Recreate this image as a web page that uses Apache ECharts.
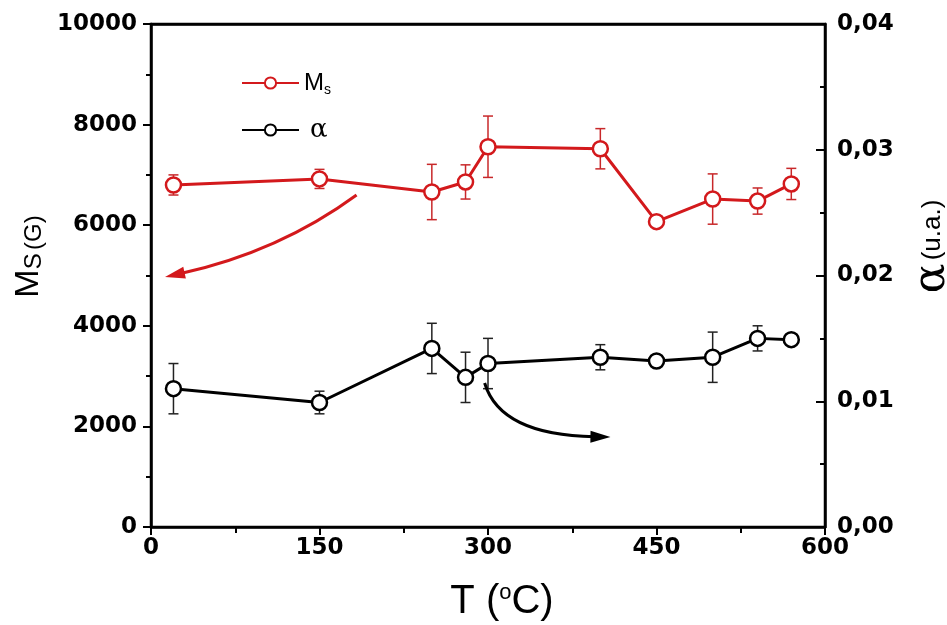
<!DOCTYPE html>
<html><head><meta charset="utf-8">
<script src="https://cdn.jsdelivr.net/npm/echarts@6/dist/echarts.min.js"></script>
<style>html,body{margin:0;padding:0;background:#fff}#c{width:947px;height:625px}</style>
</head><body><div id="c"></div>
<script>
// ---- data ----
const temps = [20, 150, 250, 280, 300, 400, 450, 500, 540, 570];
const msValues = [6800, 6920, 6660, 6860, 7560, 7520, 6070, 6520, 6480, 6820];
const msErrors = [200, 190, 550, 340, 610, 400, 110, 500, 260, 310];
const alphaValues = [0.0110, 0.0099, 0.0142, 0.0119, 0.0130, 0.0135, 0.0132, 0.0135, 0.0150, 0.0149];
const alphaErrors = [0.0020, 0.0009, 0.0020, 0.0020, 0.0020, 0.0010, 0, 0.0020, 0.0010, 0];
const xTickValues = [0, 150, 300, 450, 600];
const msTickValues = [0, 2000, 4000, 6000, 8000, 10000];
const alphaTickValues = [0, 0.01, 0.02, 0.03, 0.04];
// annotation arrows in data units [T, Ms] (left axis) / [T, alpha] (right axis)
const redArrow = [[183, 6600], [114, 5470], [12.5, 4970]];
const blackArrow = [[297, 0.01145], [311, 0.0073], [409, 0.00716]];

const RED = '#d3191c';
const chart = echarts.init(document.getElementById('c'), null, {renderer: 'canvas'});

function errSeries(vals, errs, color, yIdx) {
  return {
    type: 'custom', yAxisIndex: yIdx, z: 1, silent: true,
    data: temps.map((t, i) => [t, vals[i] - errs[i], vals[i] + errs[i]]),
    renderItem(params, api) {
      const lo = api.coord([api.value(0), api.value(1)]);
      const hi = api.coord([api.value(0), api.value(2)]);
      if (Math.abs(hi[1] - lo[1]) < 1) return null;
      const w = 5, st = {stroke: color, lineWidth: 1.5};
      return {type: 'group', children: [
        {type: 'line', shape: {x1: lo[0], y1: lo[1], x2: hi[0], y2: hi[1]}, style: st},
        {type: 'line', shape: {x1: lo[0] - w, y1: lo[1], x2: lo[0] + w, y2: lo[1]}, style: st},
        {type: 'line', shape: {x1: hi[0] - w, y1: hi[1], x2: hi[0] + w, y2: hi[1]}, style: st}
      ]};
    }
  };
}

const labelFont = {fontFamily: 'DejaVu Sans', fontWeight: 'bold', fontSize: 23, color: '#000'};
const axisLineStyle = {color: '#000', width: 2.5};

chart.setOption({
  animation: false,
  backgroundColor: '#fff',
  grid: {left: 151, right: 122, top: 24, bottom: 98, show: true, borderColor: '#000', borderWidth: 2.5,
    containLabel: false, outerBoundsMode: 'none'},
  legend: {
    orient: 'vertical', left: 236, top: 66, itemWidth: 57, itemHeight: 14, itemGap: 20,
    data: ['Ms', 'alpha'],
    formatter: n => n === 'Ms' ? '{m|M}{s|s}' : '{a|α}',
    textStyle: {
      rich: {
        m: {fontFamily: 'Liberation Sans', fontSize: 24, color: '#000'},
        s: {fontFamily: 'Liberation Sans', fontSize: 14, color: '#000', verticalAlign: 'bottom', padding: [14, 0, 0, 0]},
        a: {fontFamily: 'DejaVu Serif', fontSize: 26, color: '#000', padding: [0, 0, 0, 6]}
      }
    }
  },
  xAxis: [{
    type: 'value', min: 0, max: 600, interval: 150, position: 'bottom',
    axisLine: {onZero: false, lineStyle: axisLineStyle},
    axisTick: {show: true, inside: false, length: 8, lineStyle: {width: 2, color: '#000'}},
    minorTick: {show: true, splitNumber: 2, length: 6, lineStyle: {width: 2, color: '#000'}},
    splitLine: {show: false},
    axisLabel: Object.assign({margin: 10, formatter: v => String(v)}, labelFont),
    name: '{t|T (}{o|o}{t|C)}', nameLocation: 'middle', nameGap: 55,
    nameTextStyle: {padding: [0, 0, 0, 28], rich: {
      t: {fontFamily: 'Liberation Sans', fontSize: 40, color: '#000'},
      o: {fontFamily: 'Liberation Sans', fontSize: 22, color: '#000', verticalAlign: 'top', padding: [0, 0, 15, 0]}
    }}
  }, {
    type: 'value', min: 0, max: 600, position: 'top',
    axisLine: {onZero: false, lineStyle: axisLineStyle}, axisTick: {show: false}, axisLabel: {show: false}, splitLine: {show: false}
  }],
  yAxis: [{
    type: 'value', min: 0, max: 10000, interval: 2000, position: 'left',
    axisLine: {show: true, onZero: false, lineStyle: axisLineStyle},
    axisTick: {show: true, inside: false, length: 8, lineStyle: {width: 2, color: '#000'}},
    minorTick: {show: true, splitNumber: 2, length: 5, lineStyle: {width: 2, color: '#000'}},
    splitLine: {show: false},
    axisLabel: Object.assign({margin: 14, formatter: v => String(v)}, labelFont),
    name: '{m|M}{s|S} {g|(G)}', nameLocation: 'middle', nameRotate: 90, nameGap: 104,
    nameTextStyle: {padding: [0, 0, 0, 38], rich: {
      m: {fontFamily: 'Liberation Sans', fontSize: 34, color: '#000'},
      s: {fontFamily: 'Liberation Sans', fontSize: 24, color: '#000', verticalAlign: 'bottom'},
      g: {fontFamily: 'Liberation Sans', fontSize: 24, color: '#000', verticalAlign: 'bottom'}
    }}
  }, {
    type: 'value', min: 0, max: 0.04, interval: 0.01, position: 'right',
    axisLine: {show: true, onZero: false, lineStyle: axisLineStyle},
    axisTick: {show: true, inside: true, length: 9, lineStyle: {width: 2, color: '#000'}},
    minorTick: {show: true, splitNumber: 2, length: 5, lineStyle: {width: 2, color: '#000'}},
    splitLine: {show: false},
    axisLabel: Object.assign({margin: 12, formatter: v => v.toFixed(2).replace('.', ',')}, labelFont),
    name: '{a|α} {u|(u.a.)}', nameLocation: 'middle', nameRotate: 90, nameGap: 86,
    nameTextStyle: {padding: [0, 0, 0, 58], rich: {
      a: {fontFamily: 'DejaVu Serif', fontSize: 44, color: '#000'},
      u: {fontFamily: 'Liberation Sans', fontSize: 26, color: '#000'}
    }}
  }],
  series: [
    errSeries(msValues, msErrors, '#c8282a', 0),
    errSeries(alphaValues, alphaErrors, '#222', 1),
    {
      name: 'Ms', type: 'line', yAxisIndex: 0, z: 3,
      data: temps.map((t, i) => [t, msValues[i]]),
      symbol: 'circle', symbolSize: 15,
      lineStyle: {color: RED, width: 3},
      itemStyle: {color: '#fff', borderColor: RED, borderWidth: 2.5}
    },
    {
      name: 'alpha', type: 'line', yAxisIndex: 1, z: 3,
      data: temps.map((t, i) => [t, alphaValues[i]]),
      symbol: 'circle', symbolSize: 15,
      lineStyle: {color: '#000', width: 3},
      itemStyle: {color: '#fff', borderColor: '#000', borderWidth: 2.5}
    }
  ]
});

function arrowGraphic(pts, yIdx, color) {
  const p = pts.map(d => chart.convertToPixel({xAxisIndex: 0, yAxisIndex: yIdx}, d));
  const [p0, c, p2] = p;
  const dx = p2[0] - c[0], dy = p2[1] - c[1];
  const L = Math.hypot(dx, dy), ux = dx / L, uy = dy / L;
  const len = 20, hw = 6;
  const bx = p2[0] - ux * len, by = p2[1] - uy * len;
  return [
    {type: 'bezierCurve', shape: {x1: p0[0], y1: p0[1], x2: bx + ux * 4, y2: by + uy * 4, cpx1: c[0], cpy1: c[1]},
      style: {stroke: color, lineWidth: 3, fill: null}, z: 10},
    {type: 'polygon', shape: {points: [[p2[0], p2[1]], [bx - uy * hw, by + ux * hw], [bx + uy * hw, by - ux * hw]]},
      style: {fill: color}, z: 10}
  ];
}
chart.setOption({graphic: [].concat(arrowGraphic(redArrow, 0, RED), arrowGraphic(blackArrow, 1, '#000'))});
</script></body></html>
